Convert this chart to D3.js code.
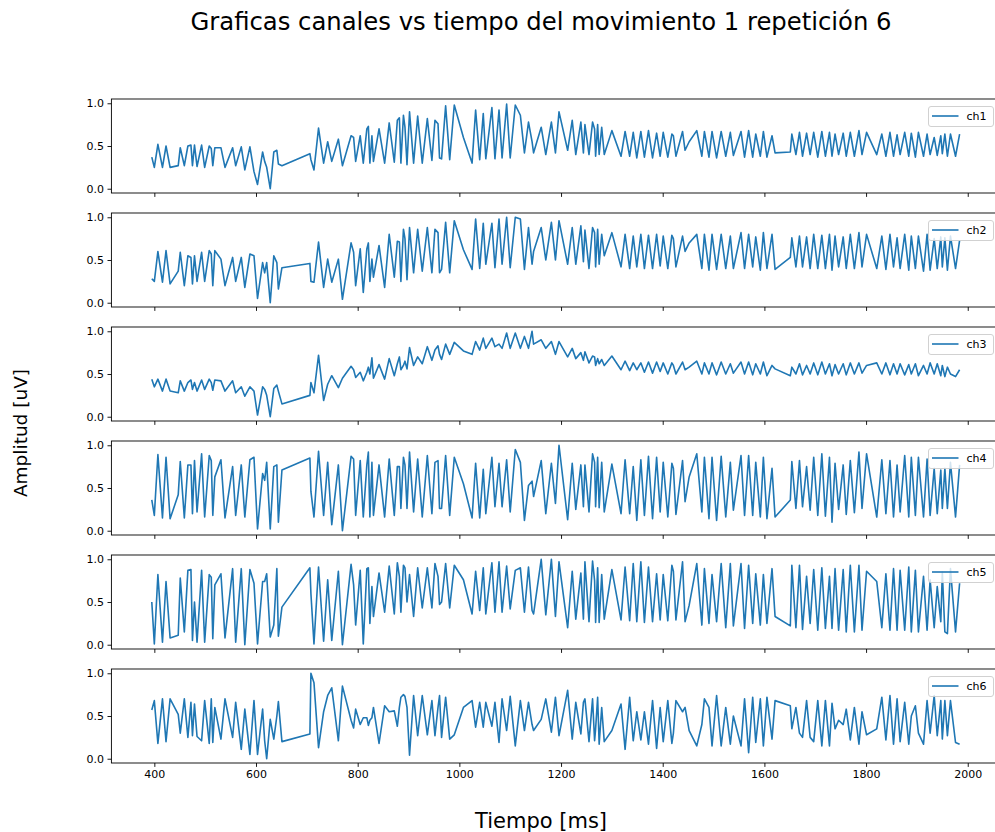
<!DOCTYPE html>
<html>
<head>
<meta charset="utf-8">
<script src="https://cdn.jsdelivr.net/npm/d3@7"></script>
<style>
  body { margin: 0; background: #fff; }
  svg { display: block; }
  text { font-family: "DejaVu Sans", sans-serif; fill: #000; }
</style>
</head>
<body>
<svg id="chart" width="995" height="832"></svg>
<script>
// Sample times (ms), shared by all six channels
const TIME_MS = [
  395, 400, 407, 416, 423, 431, 447, 451, 459, 466,
  472, 475, 479, 484, 493, 499, 508, 512, 515, 519,
  531, 539, 554, 560, 571, 578, 588, 596, 603, 613,
  617, 621, 628, 635, 641, 644, 651, 706, 708, 714,
  723, 733, 741, 749, 762, 770, 787, 792, 796, 805,
  811, 818, 821, 824, 828, 831, 842, 853, 862, 872,
  878, 882, 885, 890, 893, 897, 902, 910, 918, 927,
  937, 946, 952, 958, 961, 965, 973, 981, 990, 1008,
  1025, 1032, 1040, 1047, 1052, 1064, 1070, 1078, 1084, 1093,
  1100, 1110, 1120, 1128, 1136, 1143, 1146, 1161, 1170, 1181,
  1189, 1196, 1213, 1222, 1229, 1239, 1244, 1247, 1255, 1262,
  1266, 1268, 1272, 1275, 1280, 1285, 1300, 1318, 1326, 1335,
  1342, 1349, 1357, 1364, 1372, 1380, 1388, 1395, 1401, 1410,
  1418, 1421, 1426, 1439, 1444, 1452, 1467, 1477, 1482, 1491,
  1497, 1506, 1515, 1524, 1533, 1539, 1554, 1561, 1569, 1577,
  1583, 1592, 1598, 1605, 1615, 1621, 1651, 1654, 1662, 1669,
  1675, 1683, 1690, 1697, 1705, 1713, 1720, 1728, 1733, 1739,
  1746, 1755, 1761, 1769, 1777, 1786, 1792, 1801, 1821, 1831,
  1839, 1847, 1854, 1861, 1867, 1876, 1884, 1889, 1897, 1903,
  1913, 1920, 1926, 1934, 1940, 1947, 1950, 1955, 1960, 1966,
  1976, 1984
];

const CH1 = [
  0.37, 0.25, 0.52, 0.25, 0.50, 0.25, 0.27, 0.48, 0.27, 0.50,
  0.51, 0.27, 0.51, 0.26, 0.51, 0.25, 0.50, 0.47, 0.27, 0.48,
  0.48, 0.25, 0.48, 0.27, 0.49, 0.22, 0.49, 0.20, 0.05, 0.43,
  0.32, 0.25, 0.00, 0.43, 0.45, 0.29, 0.27, 0.41, 0.34, 0.22,
  0.71, 0.30, 0.55, 0.32, 0.58, 0.27, 0.62, 0.60, 0.32, 0.62,
  0.30, 0.70, 0.73, 0.30, 0.62, 0.32, 0.70, 0.30, 0.77, 0.31,
  0.80, 0.83, 0.30, 0.86, 0.72, 0.28, 0.90, 0.30, 0.85, 0.30,
  0.82, 0.33, 0.80, 0.76, 0.36, 0.35, 0.97, 0.34, 0.98, 0.60,
  0.30, 0.92, 0.34, 0.88, 0.35, 0.95, 0.35, 0.92, 0.36, 0.99,
  0.36, 0.98, 0.86, 0.42, 0.78, 0.55, 0.42, 0.72, 0.40, 0.78,
  0.42, 0.90, 0.45, 0.80, 0.40, 0.78, 0.42, 0.75, 0.40, 0.78,
  0.70, 0.38, 0.75, 0.40, 0.72, 0.40, 0.68, 0.38, 0.67, 0.38,
  0.66, 0.36, 0.67, 0.37, 0.68, 0.36, 0.65, 0.38, 0.66, 0.37,
  0.64, 0.62, 0.38, 0.67, 0.45, 0.55, 0.68, 0.38, 0.67, 0.37,
  0.67, 0.36, 0.67, 0.38, 0.66, 0.39, 0.67, 0.37, 0.68, 0.37,
  0.64, 0.38, 0.67, 0.37, 0.62, 0.42, 0.43, 0.64, 0.40, 0.66,
  0.38, 0.65, 0.40, 0.66, 0.37, 0.67, 0.38, 0.66, 0.38, 0.64,
  0.40, 0.65, 0.38, 0.66, 0.38, 0.68, 0.40, 0.66, 0.40, 0.64,
  0.38, 0.66, 0.38, 0.63, 0.40, 0.66, 0.38, 0.65, 0.37, 0.66,
  0.38, 0.64, 0.40, 0.60, 0.39, 0.62, 0.41, 0.64, 0.38, 0.64,
  0.38, 0.64
];

const CH2 = [
  0.28, 0.25, 0.60, 0.24, 0.61, 0.22, 0.37, 0.59, 0.20, 0.55,
  0.53, 0.22, 0.55, 0.25, 0.59, 0.25, 0.61, 0.57, 0.20, 0.61,
  0.51, 0.20, 0.53, 0.25, 0.53, 0.18, 0.57, 0.55, 0.05, 0.47,
  0.35, 0.47, 0.00, 0.55, 0.47, 0.16, 0.41, 0.46, 0.25, 0.24,
  0.71, 0.18, 0.51, 0.24, 0.51, 0.04, 0.70, 0.59, 0.20, 0.63,
  0.12, 0.63, 0.70, 0.25, 0.51, 0.30, 0.67, 0.18, 0.80, 0.30,
  0.72, 0.71, 0.25, 0.86, 0.75, 0.27, 0.88, 0.35, 0.86, 0.37,
  0.88, 0.35, 0.86, 0.82, 0.35, 0.39, 0.94, 0.35, 0.96, 0.62,
  0.39, 0.98, 0.40, 0.93, 0.45, 0.93, 0.41, 0.98, 0.45, 1.00,
  0.41, 1.00, 0.98, 0.39, 0.88, 0.45, 0.60, 0.88, 0.50, 0.94,
  0.50, 0.96, 0.45, 0.88, 0.45, 0.90, 0.48, 0.85, 0.40, 0.88,
  0.82, 0.42, 0.86, 0.45, 0.80, 0.55, 0.82, 0.42, 0.80, 0.40,
  0.78, 0.42, 0.80, 0.40, 0.79, 0.40, 0.80, 0.43, 0.78, 0.40,
  0.79, 0.75, 0.42, 0.78, 0.60, 0.70, 0.80, 0.40, 0.80, 0.38,
  0.80, 0.39, 0.80, 0.40, 0.78, 0.40, 0.82, 0.40, 0.80, 0.42,
  0.77, 0.38, 0.82, 0.40, 0.80, 0.39, 0.53, 0.76, 0.42, 0.78,
  0.42, 0.77, 0.40, 0.80, 0.40, 0.79, 0.40, 0.80, 0.38, 0.78,
  0.42, 0.77, 0.40, 0.80, 0.40, 0.82, 0.42, 0.80, 0.40, 0.78,
  0.39, 0.80, 0.42, 0.76, 0.40, 0.80, 0.38, 0.78, 0.40, 0.78,
  0.37, 0.80, 0.38, 0.75, 0.40, 0.77, 0.42, 0.76, 0.38, 0.78,
  0.40, 0.73
];

const CH3 = [
  0.44, 0.35, 0.44, 0.30, 0.44, 0.30, 0.28, 0.42, 0.30, 0.40,
  0.43, 0.32, 0.40, 0.30, 0.43, 0.32, 0.44, 0.40, 0.31, 0.43,
  0.42, 0.30, 0.42, 0.28, 0.35, 0.24, 0.35, 0.30, 0.02, 0.35,
  0.32, 0.25, 0.00, 0.33, 0.37, 0.30, 0.15, 0.25, 0.40, 0.28,
  0.72, 0.19, 0.38, 0.48, 0.34, 0.45, 0.59, 0.55, 0.46, 0.52,
  0.42, 0.52, 0.58, 0.50, 0.69, 0.45, 0.61, 0.44, 0.68, 0.48,
  0.62, 0.70, 0.55, 0.60, 0.65, 0.56, 0.81, 0.60, 0.70, 0.62,
  0.82, 0.66, 0.78, 0.83, 0.73, 0.67, 0.85, 0.73, 0.87, 0.77,
  0.73, 0.88, 0.78, 0.92, 0.80, 0.92, 0.82, 0.85, 0.80, 0.98,
  0.80, 0.98, 0.80, 0.94, 0.80, 1.00, 0.85, 0.90, 0.80, 0.88,
  0.73, 0.88, 0.70, 0.80, 0.68, 0.75, 0.66, 0.76, 0.63, 0.71,
  0.70, 0.60, 0.68, 0.62, 0.67, 0.60, 0.71, 0.55, 0.65, 0.54,
  0.63, 0.55, 0.63, 0.52, 0.64, 0.51, 0.64, 0.53, 0.63, 0.50,
  0.63, 0.60, 0.50, 0.64, 0.55, 0.58, 0.65, 0.50, 0.63, 0.50,
  0.63, 0.49, 0.64, 0.50, 0.62, 0.51, 0.64, 0.50, 0.64, 0.49,
  0.62, 0.50, 0.64, 0.48, 0.60, 0.56, 0.48, 0.58, 0.50, 0.62,
  0.49, 0.60, 0.50, 0.63, 0.49, 0.64, 0.50, 0.62, 0.48, 0.61,
  0.50, 0.62, 0.49, 0.63, 0.50, 0.63, 0.51, 0.60, 0.63, 0.50,
  0.63, 0.49, 0.62, 0.50, 0.62, 0.49, 0.61, 0.50, 0.62, 0.48,
  0.60, 0.50, 0.63, 0.50, 0.62, 0.48, 0.60, 0.47, 0.58, 0.50,
  0.47, 0.55
];

const CH4 = [
  0.36, 0.18, 0.89, 0.15, 0.86, 0.14, 0.42, 0.81, 0.15, 0.77,
  0.77, 0.20, 0.82, 0.22, 0.90, 0.16, 0.88, 0.82, 0.18, 0.63,
  0.83, 0.15, 0.75, 0.18, 0.77, 0.16, 0.83, 0.86, 0.02, 0.67,
  0.59, 0.80, 0.02, 0.75, 0.77, 0.10, 0.71, 0.85, 0.46, 0.16,
  0.93, 0.18, 0.80, 0.07, 0.77, 0.00, 0.87, 0.84, 0.18, 0.82,
  0.16, 0.77, 0.92, 0.16, 0.80, 0.18, 0.77, 0.16, 0.84, 0.18,
  0.75, 0.75, 0.26, 0.86, 0.77, 0.26, 0.92, 0.22, 0.84, 0.16,
  0.88, 0.20, 0.80, 0.82, 0.26, 0.26, 0.88, 0.18, 0.86, 0.55,
  0.15, 0.79, 0.15, 0.72, 0.20, 0.86, 0.28, 0.79, 0.28, 0.83,
  0.22, 0.95, 0.80, 0.12, 0.53, 0.58, 0.40, 0.82, 0.20, 0.79,
  0.32, 1.00, 0.13, 0.79, 0.25, 0.77, 0.28, 0.77, 0.22, 0.90,
  0.80, 0.28, 0.86, 0.27, 0.80, 0.22, 0.78, 0.20, 0.83, 0.20,
  0.75, 0.12, 0.83, 0.18, 0.87, 0.14, 0.86, 0.22, 0.80, 0.16,
  0.79, 0.73, 0.19, 0.82, 0.34, 0.63, 0.90, 0.22, 0.86, 0.14,
  0.86, 0.12, 0.87, 0.16, 0.80, 0.24, 0.88, 0.18, 0.88, 0.18,
  0.80, 0.16, 0.86, 0.14, 0.73, 0.16, 0.36, 0.81, 0.26, 0.82,
  0.28, 0.75, 0.24, 0.86, 0.18, 0.90, 0.17, 0.86, 0.10, 0.79,
  0.25, 0.77, 0.19, 0.82, 0.21, 0.92, 0.26, 0.90, 0.16, 0.83,
  0.20, 0.82, 0.16, 0.77, 0.22, 0.88, 0.16, 0.86, 0.18, 0.86,
  0.16, 0.84, 0.18, 0.73, 0.20, 0.71, 0.26, 0.73, 0.26, 0.80,
  0.16, 0.77
];

const CH5 = [
  0.50, 0.01, 0.82, 0.03, 0.74, 0.08, 0.11, 0.78, 0.15, 0.87,
  0.88, 0.05, 0.50, 0.03, 0.87, 0.03, 0.82, 0.79, 0.07, 0.70,
  0.83, 0.08, 0.89, 0.03, 0.89, 0.00, 0.88, 0.72, 0.01, 0.74,
  0.74, 0.83, 0.09, 0.23, 0.89, 0.10, 0.44, 0.90, 0.60, 0.01,
  0.91, 0.04, 0.76, 0.05, 0.86, 0.00, 0.94, 0.70, 0.23, 0.87,
  0.01, 0.89, 0.90, 0.25, 0.68, 0.33, 0.84, 0.38, 0.92, 0.36,
  0.96, 0.80, 0.38, 0.93, 0.90, 0.50, 0.82, 0.33, 0.90, 0.43,
  0.90, 0.43, 0.95, 0.80, 0.47, 0.50, 0.95, 0.43, 0.93, 0.76,
  0.36, 0.86, 0.40, 0.90, 0.36, 0.96, 0.38, 0.97, 0.38, 0.92,
  0.42, 0.87, 0.90, 0.38, 0.91, 0.40, 0.36, 1.00, 0.35, 1.00,
  0.33, 0.97, 0.20, 0.86, 0.30, 0.84, 0.30, 0.97, 0.27, 0.98,
  0.75, 0.26, 0.90, 0.26, 0.82, 0.30, 0.88, 0.29, 0.91, 0.28,
  0.95, 0.27, 0.97, 0.26, 0.91, 0.27, 0.83, 0.29, 0.82, 0.28,
  0.93, 0.86, 0.29, 0.97, 0.27, 0.46, 0.95, 0.23, 0.89, 0.25,
  0.82, 0.27, 0.95, 0.20, 0.95, 0.22, 0.95, 0.19, 0.93, 0.25,
  0.83, 0.23, 0.82, 0.25, 0.89, 0.33, 0.22, 0.93, 0.20, 0.93,
  0.18, 0.80, 0.25, 0.88, 0.17, 0.90, 0.19, 0.80, 0.19, 0.89,
  0.17, 0.88, 0.15, 0.93, 0.15, 0.93, 0.17, 0.86, 0.74, 0.20,
  0.83, 0.17, 0.89, 0.17, 0.87, 0.17, 0.91, 0.15, 0.87, 0.15,
  0.80, 0.17, 0.76, 0.20, 0.68, 0.27, 0.85, 0.15, 0.13, 0.89,
  0.15, 0.72
];

const CH6 = [
  0.57, 0.68, 0.18, 0.70, 0.20, 0.70, 0.52, 0.30, 0.70, 0.25,
  0.66, 0.27, 0.64, 0.26, 0.21, 0.68, 0.18, 0.70, 0.19, 0.60,
  0.23, 0.70, 0.25, 0.66, 0.11, 0.58, 0.05, 0.68, 0.05, 0.58,
  0.21, 0.00, 0.46, 0.23, 0.50, 0.67, 0.20, 0.29, 1.00, 0.89,
  0.13, 0.55, 0.74, 0.83, 0.21, 0.85, 0.45, 0.36, 0.58, 0.40,
  0.48, 0.48, 0.39, 0.45, 0.48, 0.60, 0.18, 0.62, 0.55, 0.56,
  0.38, 0.60, 0.72, 0.75, 0.73, 0.60, 0.04, 0.74, 0.27, 0.74,
  0.28, 0.68, 0.27, 0.60, 0.74, 0.25, 0.72, 0.23, 0.28, 0.60,
  0.68, 0.37, 0.66, 0.37, 0.66, 0.38, 0.66, 0.19, 0.70, 0.33,
  0.73, 0.15, 0.68, 0.33, 0.66, 0.40, 0.33, 0.46, 0.70, 0.31,
  0.72, 0.27, 0.80, 0.23, 0.66, 0.29, 0.66, 0.70, 0.20, 0.70,
  0.21, 0.35, 0.72, 0.17, 0.60, 0.20, 0.33, 0.64, 0.11, 0.72,
  0.21, 0.55, 0.22, 0.55, 0.17, 0.68, 0.12, 0.60, 0.20, 0.68,
  0.18, 0.30, 0.68, 0.55, 0.60, 0.33, 0.15, 0.40, 0.70, 0.60,
  0.15, 0.74, 0.15, 0.60, 0.17, 0.50, 0.15, 0.70, 0.07, 0.72,
  0.19, 0.70, 0.15, 0.72, 0.23, 0.68, 0.62, 0.35, 0.60, 0.30,
  0.25, 0.68, 0.25, 0.20, 0.68, 0.15, 0.68, 0.15, 0.65, 0.35,
  0.45, 0.40, 0.58, 0.22, 0.60, 0.17, 0.55, 0.28, 0.35, 0.72,
  0.22, 0.74, 0.17, 0.70, 0.20, 0.66, 0.17, 0.50, 0.62, 0.30,
  0.17, 0.68, 0.30, 0.74, 0.27, 0.68, 0.23, 0.68, 0.27, 0.68,
  0.19, 0.17
];

const CHANNEL_NAMES = ["ch1", "ch2", "ch3", "ch4", "ch5", "ch6"];
const X_TICKS = [400, 600, 800, 1000, 1200, 1400, 1600, 1800, 2000];
const Y_TICKS = [0.0, 0.5, 1.0];
const TITLE = "Graficas canales vs tiempo del movimiento 1 repetición 6";
const X_LABEL = "Tiempo [ms]";
const Y_LABEL = "Amplitud [uV]";

const channels = [CH1, CH2, CH3, CH4, CH5, CH6];

// Layout
const W = 995, H = 832;
const plotLeft = 111.4, plotRight = 1000;
const firstTop = 99, panelH = 94, panelStep = 114;
const lineColor = "#1f77b4";
const tickLen = 3.9, tickPad = 3.5, tickFont = 11;

const svg = d3.select("#chart");
svg.append("rect").attr("width", W).attr("height", H).attr("fill", "#fff");

// Shared scales: 5% padding around the data on each axis
const [tMin, tMax] = d3.extent(TIME_MS);
const tPad = (tMax - tMin) * 0.05;
const x = d3.scaleLinear().domain([tMin - tPad, tMax + tPad]).range([plotLeft, plotRight]);
const y = d3.scaleLinear().domain([-0.05, 1.05]).range([panelH, 0]);

const line = d3.line()
  .x((d, j) => x(TIME_MS[j]))
  .y(d => y(d));

channels.forEach((vals, i) => {
  const g = svg.append("g").attr("transform", `translate(0,${firstTop + i * panelStep})`);

  g.append("path")
    .datum(vals)
    .attr("d", line)
    .attr("fill", "none")
    .attr("stroke", lineColor)
    .attr("stroke-width", 1.6)
    .attr("stroke-linejoin", "round");

  const yAxis = g.append("g")
    .attr("transform", `translate(${plotLeft},0)`)
    .call(d3.axisLeft(y).tickValues(Y_TICKS).tickFormat(d3.format(".1f"))
      .tickSize(tickLen).tickPadding(tickPad));

  const xAxis = g.append("g")
    .attr("transform", `translate(0,${panelH})`)
    .call(d3.axisBottom(x).tickValues(X_TICKS)
      .tickFormat(i === channels.length - 1 ? d3.format("d") : () => "")
      .tickSize(tickLen).tickPadding(tickPad));

  [yAxis, xAxis].forEach(ax => {
    ax.select(".domain").remove();
    ax.selectAll(".tick line").attr("stroke", "#000").attr("stroke-width", 0.9);
    ax.selectAll(".tick text")
      .attr("font-family", "DejaVu Sans")
      .attr("font-size", tickFont)
      .attr("fill", "#000");
  });

  // Frame around the panel
  g.append("rect")
    .attr("x", plotLeft).attr("y", 0)
    .attr("width", plotRight - plotLeft).attr("height", panelH)
    .attr("fill", "none").attr("stroke", "#000").attr("stroke-width", 0.9);

  // Legend, upper right
  const lg = g.append("g").attr("transform", "translate(928.5,7.5)");
  lg.append("rect")
    .attr("width", 65).attr("height", 20).attr("rx", 2.5)
    .attr("fill", "#fff").attr("fill-opacity", 0.8)
    .attr("stroke", "#cccccc").attr("stroke-width", 0.9);
  lg.append("line")
    .attr("x1", 3.5).attr("x2", 30).attr("y1", 9.5).attr("y2", 9.5)
    .attr("stroke", lineColor).attr("stroke-width", 1.6);
  lg.append("text")
    .attr("x", 38).attr("y", 13.5)
    .attr("font-size", tickFont)
    .text(CHANNEL_NAMES[i]);
});

// Figure title and shared axis labels
svg.append("text")
  .attr("x", 541).attr("y", 30)
  .attr("text-anchor", "middle")
  .attr("font-size", 24.3)
  .text(TITLE);

svg.append("text")
  .attr("x", 541).attr("y", 828)
  .attr("text-anchor", "middle")
  .attr("font-size", 21)
  .text(X_LABEL);

svg.append("text")
  .attr("transform", "translate(27,433) rotate(-90)")
  .attr("text-anchor", "middle")
  .attr("font-size", 18.5)
  .text(Y_LABEL);
</script>
</body>
</html>
